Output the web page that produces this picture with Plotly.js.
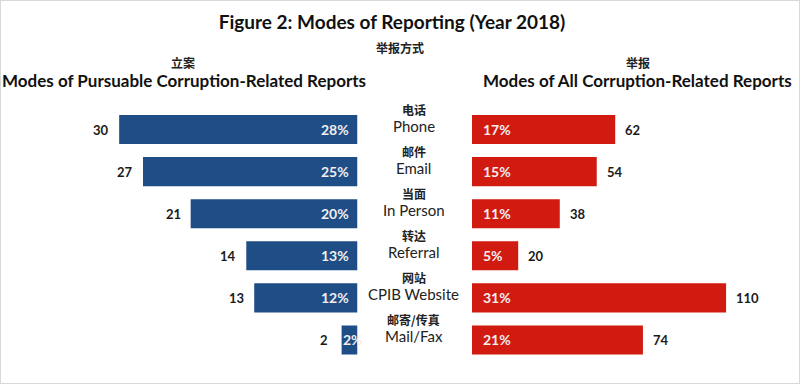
<!DOCTYPE html>
<html>
<head>
<meta charset="utf-8">
<script src="https://cdn.plot.ly/plotly-3.0.1.min.js"></script>
<style>html,body{margin:0;padding:0;background:#fff;}#chart{width:800px;height:384px;}</style>
</head>
<body>
<div id="chart"></div>
<script>
// ---- data ----
const categories = ["Phone", "Email", "In Person", "Referral", "CPIB Website", "Mail/Fax"];
const categoriesZh = ["电话", "邮件", "当面", "转达", "网站", "邮寄/传真"];
const pursuableCounts = [30, 27, 21, 14, 13, 2];
const pursuablePct = ["28%", "25%", "20%", "13%", "12%", "2%"];
const allCounts = [62, 54, 38, 20, 110, 74];
const allPct = ["17%", "15%", "11%", "5%", "31%", "21%"];

// ---- styling ----
const W = 800, H = 384;
const px = p => p / W;
const py = p => 1 - p / H;
const BLUE = "#1f4d86";
const RED = "#d11a10";
const LAT = "Lato, 'Open Sans', sans-serif";
const CJK = "'Noto Sans CJK SC', sans-serif";
const LEFT_MAX = 45;

const traces = [
  {
    type: "bar", orientation: "h", x: pursuableCounts, y: categories,
    xaxis: "x", yaxis: "y", width: 0.69,
    marker: {color: BLUE, line: {width: 0}}, hoverinfo: "skip"
  },
  {
    type: "bar", orientation: "h", x: allCounts, y: categories,
    xaxis: "x2", yaxis: "y", width: 0.69,
    marker: {color: RED, line: {width: 0}}, hoverinfo: "skip"
  }
];

const ann = [];
const cntFont = {family: LAT, size: 13, color: "#1a1a1a"};
const pctFont = {family: LAT, size: 14, color: "#f4eeee"};
categories.forEach((c, i) => {
  const shortBar = pursuableCounts[i] < 4;
  ann.push({xref: "x", yref: "y", x: pursuableCounts[i], y: c, text: "<b>" + pursuableCounts[i] + "</b>",
    xanchor: "right", xshift: shortBar ? -12 : -8, showarrow: false, font: cntFont});
  if (shortBar) {
    ann.push({xref: "x", yref: "y", x: pursuableCounts[i], y: c, text: "<b>" + pursuablePct[i] + "</b>",
      xanchor: "left", xshift: -1, showarrow: false, font: pctFont});
  } else {
    ann.push({xref: "x", yref: "y", x: 0, y: c, text: "<b>" + pursuablePct[i] + "</b>",
      xanchor: "right", xshift: -7, showarrow: false, font: pctFont});
  }
  ann.push({xref: "x2", yref: "y", x: allCounts[i], y: c, text: "<b>" + allCounts[i] + "</b>",
    xanchor: "left", xshift: 8, showarrow: false, font: cntFont});
  ann.push({xref: "x2", yref: "y", x: 0, y: c, text: "<b>" + allPct[i] + "</b>",
    xanchor: "left", xshift: 9, showarrow: false, font: pctFont});
  ann.push({xref: "paper", yref: "y", x: px(414), y: c, text: c, xanchor: "center",
    yshift: 4, showarrow: false, font: {family: LAT, size: 15, color: "#222"}});
  ann.push({xref: "paper", yref: "y", x: px(414), y: c, text: "<b>" + categoriesZh[i] + "</b>", xanchor: "center",
    yshift: 20, showarrow: false, font: {family: CJK, size: 12, color: "#222"}});
});

const hdrFont = {family: LAT, size: 17, color: "#111"};
const cjkHdr = {family: CJK, size: 12, color: "#222"};
ann.push({xref: "paper", yref: "paper", x: px(400), y: py(47), xanchor: "center", yanchor: "middle",
  text: "<b>举报方式</b>", showarrow: false, font: cjkHdr});
ann.push({xref: "paper", yref: "paper", x: px(183), y: py(62), xanchor: "center", yanchor: "middle",
  text: "<b>立案</b>", showarrow: false, font: cjkHdr});
ann.push({xref: "paper", yref: "paper", x: px(638), y: py(62), xanchor: "center", yanchor: "middle",
  text: "<b>举报</b>", showarrow: false, font: cjkHdr});
ann.push({xref: "paper", yref: "paper", x: px(184), y: py(80), xanchor: "center", yanchor: "middle",
  text: "<b>Modes of Pursuable Corruption-Related Reports</b>", showarrow: false, font: hdrFont});
ann.push({xref: "paper", yref: "paper", x: px(637), y: py(80), xanchor: "center", yanchor: "middle",
  text: "<b>Modes of All Corruption-Related Reports</b>", showarrow: false, font: hdrFont});

const layout = {
  width: W, height: H,
  margin: {l: 0, r: 0, t: 0, b: 0, pad: 0},
  paper_bgcolor: "#ffffff", plot_bgcolor: "#ffffff",
  showlegend: false,
  title: {text: "<b>Figure 2: Modes of Reporting (Year 2018)</b>", x: px(392), xanchor: "center",
    y: py(22), yanchor: "middle", yref: "paper", font: {family: LAT, size: 19, color: "#111"}},
  xaxis: {domain: [0, px(357.5)], range: [LEFT_MAX, 0], visible: false, fixedrange: true},
  xaxis2: {domain: [px(472), 1], range: [0, 142], visible: false, fixedrange: true},
  yaxis: {domain: [py(361), py(108.5)], type: "category", range: [5.5, -0.5], visible: false, fixedrange: true},
  annotations: ann,
  shapes: [{type: "rect", xref: "paper", yref: "paper", x0: 0, x1: 1, y0: 0, y1: 1,
    line: {color: "#d8d8d8", width: 2}}]
};

Plotly.newPlot("chart", traces, layout, {displayModeBar: false, staticPlot: true});
</script>
</body>
</html>
